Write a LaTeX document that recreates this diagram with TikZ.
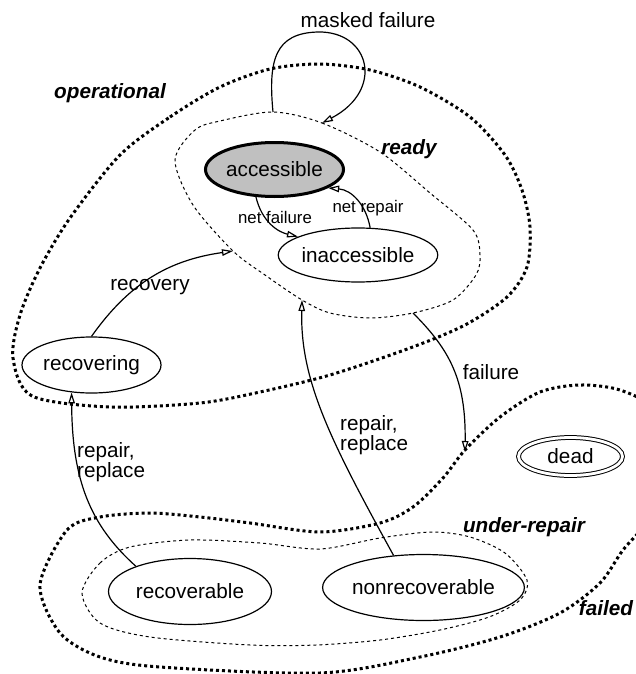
\documentclass[tikz,border=0pt]{standalone}
\usepackage{fontspec}
\setmainfont{Liberation Sans}
\usetikzlibrary{arrows.meta,shapes.geometric}
\definecolor{accgray}{RGB}{192,192,192}
\newcommand\lblfont{\fontsize{20.7}{20}\selectfont}
\newcommand\smfont{\fontsize{16.8}{18}\selectfont}
\begin{document}
\begin{tikzpicture}[x=1pt,y=-1pt,
  state/.style={ellipse, draw, line width=1.2pt, inner sep=0pt, font=\lblfont},
  lbl/.style={inner sep=0pt, font=\lblfont},
  smlbl/.style={inner sep=0pt, font=\smfont},
  rlbl/.style={inner sep=0pt, font=\lblfont\bfseries\itshape},
  conn/.style={line width=1.2pt, -{Triangle[open,length=11pt,width=6.5pt]}},
  thickdot/.style={line width=3pt, dash pattern=on 3pt off 3pt},
  thindash/.style={line width=1pt, dash pattern=on 3pt off 3pt}]
\useasboundingbox (0,0) rectangle (636,674);
\begin{scope}
\clip (0,0) rectangle (636,674);
% operational
\draw[thickdot] plot[smooth cycle] coordinates {(120,155) (170,117) (220,87) (270,69) (320,64) (370,70) (420,87) (470,117) (505,155) (522,190) (530,227) (527,267) (507,297) (465,325) (410,348) (330,375) (260,392) (200,403) (110,407) (32,396) (13,358) (20,315) (40,268) (70,218)};
% ready
\draw[thindash] plot[smooth cycle] coordinates {(273,112) (322,123) (380,152) (430,193) (473,230) (480,255) (476,275) (453,300) (413,313) (370,318) (330,313) (302,300) (265,275) (233,251) (193,205) (175,160) (195,130) (220,121)};
% failed
\draw[thickdot] plot[smooth cycle] coordinates {(40,585) (67,530) (100,517) (150,513) (200,517) (250,523) (320,532) (380,523) (413,507) (443,478) (465,450) (500,417) (540,392) (580,385) (620,390) (655,410) (672,460) (652,515) (623,550) (600,583) (560,613) (500,637) (420,657) (320,673) (160,667) (100,657) (60,633)};
% under-repair
\draw[thindash] plot[smooth cycle] coordinates {(82,593) (100,563) (130,547) (190,540) (260,543) (320,549) (380,538) (432,532) (470,537) (505,553) (527,580) (520,600) (489,617) (440,630) (380,640) (316,645) (250,645) (150,637) (100,623)};
\end{scope}
% region anchor points
\coordinate (rtop) at (273,112);
\coordinate (rin) at (322,123);
\coordinate (rrec) at (233,251);
\coordinate (rbot) at (413,313);
\coordinate (rrep) at (302,300);
\coordinate (fin) at (465,452);
% states
\node[state, fill=accgray, line width=3pt, minimum width=138pt, minimum height=54pt] (acc) at (274.5,169.5) {accessible};
\node[state, minimum width=158pt, minimum height=54pt] (inacc) at (358,255) {inaccessible};
\node[state, minimum width=139pt, minimum height=56pt] (recovering) at (91.5,365) {recovering};
\node[state, minimum width=163pt, minimum height=66pt] (recoverable) at (190,591.5) {recoverable};
\node[state, minimum width=182pt, minimum height=66pt] (nonrec) at (423.5,587.5) {nonrecoverable};
\node[state, double, double distance=2.8pt, line width=1pt, minimum width=104pt, minimum height=38pt] (dead) at (570.5,456.5) {dead};
% connectors
\draw[conn] (rtop) .. controls (268,60) and (275,33) .. (318,32) .. controls (370,31) and (385,90) .. (rin);
\draw[conn] (acc.236) .. controls (262,222) and (278,232) .. (inacc.163);
\draw[conn] (inacc.66) .. controls (366,205) and (352,190) .. (acc.341);
\draw[conn] (recovering.north) .. controls (130,282) and (170,260) .. (rrec);
\draw[conn] (recoverable.155) .. controls (90,525) and (72,480) .. (recovering.234);
\draw[conn] (nonrec.133) .. controls (330,440) and (300,380) .. (rrep);
\draw[conn] (rbot) .. controls (450,350) and (466,380) .. (fin);
% labels
\node[lbl] (lmask) at (368,20) {masked failure};
\node[smlbl] (lnetf) at (275,217) {net failure};
\node[smlbl] (lnetr) at (368,208) {net repair};
\node[lbl] (lrecov) at (150,287) {recovery};
\node[lbl] (lfail) at (491,372) {failure};
\node[lbl, align=left, anchor=west] (lrepr) at (340,435) {repair,\\replace};
\node[lbl, align=left, anchor=west] (lrepl) at (77,462) {repair,\\replace};
\node[rlbl] (lop) at (110,93) {operational};
\node[rlbl] (lready) at (409,149) {ready};
\node[rlbl] (lunder) at (524,527) {under-repair};
\node[rlbl] (lfailed) at (606,608) {failed};
\end{tikzpicture}
\end{document}
